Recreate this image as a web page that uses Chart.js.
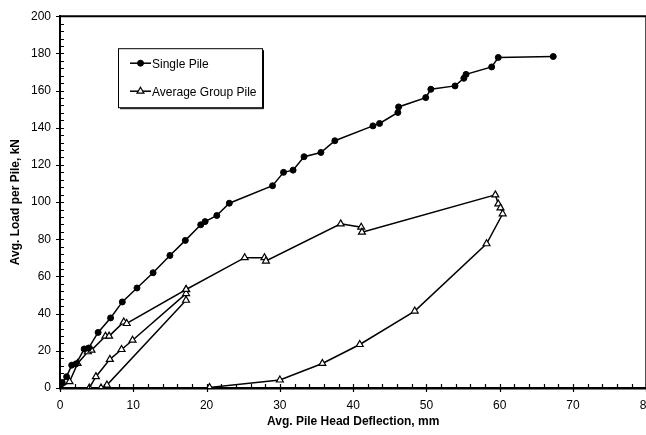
<!doctype html>
<html lang="en">
<head>
<meta charset="utf-8">
<title>Avg. Load per Pile vs Deflection</title>
<script src="https://cdn.jsdelivr.net/npm/chart.js@4.4.0/dist/chart.umd.min.js"></script>
<style>
  html, body { margin: 0; padding: 0; background: #fff; overflow: hidden; }
  canvas { display: block; }
</style>
</head>
<body>
<canvas id="pile" width="663" height="435"></canvas>
<script>
// series names
var seriesNames = ['Single Pile', 'Average Group Pile'];

// single pile: deflection (mm) / load (kN)
var singleX = [0, 0.3, 0.9, 1.6, 2.2, 3.3, 3.9, 5.2, 6.9, 8.5, 10.5, 12.7, 15.0, 17.1, 19.2, 19.8, 21.4, 23.1,
               29.0, 30.5, 31.8, 33.3, 35.6, 37.5, 42.7, 43.6, 46.1, 46.2, 49.9, 50.6, 53.9, 55.1, 55.4, 58.9, 59.8, 67.3];
var singleY = [0, 3.0, 6.1, 12.3, 13.0, 21.0, 21.5, 29.9, 37.7, 46.3, 53.8, 62.0, 71.3, 79.4, 87.8, 89.5, 92.8, 99.4,
               108.8, 116.0, 117.2, 124.4, 126.7, 133.0, 141.0, 142.3, 148.2, 151.2, 156.2, 160.7, 162.5, 166.6, 168.7, 172.7, 177.8, 178.3];

// average group pile (load, unload, reload, load, unload)
var groupX = [0, 1.3, 2.4, 3.8, 4.3, 6.2, 6.7, 8.7, 9.1, 17.2, 17.2, 6.4, 5.6, 4.0, 4.9, 6.8, 8.4, 9.9, 17.2, 17.2,
              25.2, 27.9, 28.1, 38.3, 41.1, 41.2, 59.4, 59.8, 60.1, 60.4, 58.2, 48.4, 40.9, 35.8, 30.0, 20.4];
var groupY = [0, 3.4, 13.2, 19.5, 20.4, 27.9, 27.9, 35.5, 34.7, 52.9, 47.2, 1.6, 0, 0, 6.1, 15.4, 20.7, 25.7, 50.8, 53.0,
              70.1, 70.1, 68.3, 88.3, 86.5, 83.8, 103.9, 99.0, 96.9, 93.7, 77.6, 41.4, 23.4, 13.2, 4.3, 0.3];

// axis ticks
var xTicks = [0, 10, 20, 30, 40, 50, 60, 70, 80];
var yTicks = [0, 20, 40, 60, 80, 100, 120, 140, 160, 180, 200];
var xMinorStep = 2;
var yMinorStep = 4;

function toPoints(xs, ys) {
  return xs.map(function (x, i) { return { x: x, y: ys[i] }; });
}

// box on top/right, minor and major tick marks
var frameTicks = {
  id: 'frameTicks',
  afterDraw: function (chart) {
    var ctx = chart.ctx, a = chart.chartArea;
    var xs = chart.scales.x, ys = chart.scales.y;
    ctx.save();
    ctx.strokeStyle = '#000';
    ctx.lineWidth = 2;
    ctx.beginPath();
    ctx.moveTo(a.left, a.top);
    ctx.lineTo(a.right, a.top);
    ctx.lineTo(a.right, a.bottom);
    ctx.stroke();

    ctx.lineWidth = 1.2;
    ctx.beginPath();
    for (var v = xs.min; v <= xs.max; v += xMinorStep) {
      var px = Math.round(xs.getPixelForValue(v)) + 0.5;
      var major = xTicks.indexOf(v) >= 0;
      ctx.moveTo(px, a.bottom + (major ? 4 : 0));
      ctx.lineTo(px, a.bottom - 4);
    }
    for (var w = ys.min; w <= ys.max; w += yMinorStep) {
      var py = Math.round(ys.getPixelForValue(w)) + 0.5;
      var majorY = yTicks.indexOf(w) >= 0;
      ctx.moveTo(a.left - (majorY ? 4 : 0), py);
      ctx.lineTo(a.left + 4, py);
    }
    ctx.stroke();
    ctx.restore();
  }
};

// boxed legend inside the plot
var boxLegend = {
  id: 'boxLegend',
  afterDraw: function (chart) {
    var ctx = chart.ctx, a = chart.chartArea;
    var bx = a.left + 58, by = a.top + 32, bw = 144, bh = 59;
    ctx.save();
    ctx.fillStyle = '#fff';
    ctx.fillRect(bx, by, bw, bh);
    ctx.strokeStyle = '#000';
    ctx.lineWidth = 1;
    ctx.strokeRect(bx + 0.5, by + 0.5, bw, bh);
    ctx.beginPath();
    ctx.moveTo(bx + 2, by + bh + 1.5);
    ctx.lineTo(bx + bw + 1.5, by + bh + 1.5);
    ctx.lineTo(bx + bw + 1.5, by + 2);
    ctx.stroke();

    ctx.font = '12px "Liberation Sans", Arial, sans-serif';
    ctx.textBaseline = 'middle';
    chart.data.datasets.forEach(function (ds, i) {
      var y = by + 15 + i * 28;
      ctx.strokeStyle = '#000';
      ctx.lineWidth = 1.5;
      ctx.beginPath();
      ctx.moveTo(bx + 12, y);
      ctx.lineTo(bx + 33, y);
      ctx.stroke();
      ctx.fillStyle = ds.pointBackgroundColor;
      ctx.lineWidth = ds.pointBorderWidth;
      Chart.helpers.drawPoint(ctx, {
        pointStyle: ds.pointStyle,
        radius: ds.pointRadius,
        borderWidth: ds.pointBorderWidth
      }, bx + 22.5, y);
      ctx.fillStyle = '#000';
      ctx.fillText(ds.label, bx + 34, y + 1);
    });
    ctx.restore();
  }
};

Chart.defaults.font.family = '"Liberation Sans", Arial, sans-serif';
Chart.defaults.font.size = 12;
Chart.defaults.color = '#000';

var ctx = document.getElementById('pile').getContext('2d');
var pileChart = new Chart(ctx, {
  type: 'scatter',
  data: {
    datasets: [{
      label: seriesNames[0],
      data: toPoints(singleX, singleY),
      showLine: true,
      borderColor: '#000',
      borderWidth: 1.5,
      pointStyle: 'circle',
      pointRadius: 3,
      pointBorderWidth: 1,
      pointBackgroundColor: '#000',
      pointBorderColor: '#000'
    }, {
      label: seriesNames[1],
      data: toPoints(groupX, groupY),
      showLine: true,
      borderColor: '#000',
      borderWidth: 1.5,
      pointStyle: 'triangle',
      pointRadius: 4,
      pointBorderWidth: 1.2,
      pointBackgroundColor: '#fff',
      pointBorderColor: '#000'
    }]
  },
  options: {
    responsive: false,
    animation: false,
    layout: { padding: { top: 15, right: 0, bottom: 0, left: 0 } },
    plugins: {
      legend: { display: false },
      tooltip: { enabled: false }
    },
    scales: {
      x: {
        type: 'linear',
        min: 0,
        max: 80,
        afterBuildTicks: function (s) { s.ticks = xTicks.map(function (v) { return { value: v }; }); },
        afterFit: function (s) { s.height = 47; },
        grid: { display: true, drawOnChartArea: false, drawTicks: false },
        border: { display: true, color: '#000', width: 2.5 },
        ticks: { padding: 10, maxRotation: 0, font: { size: 12 } },
        title: {
          display: true,
          text: 'Avg. Pile Head Deflection, mm',
          font: { size: 12, weight: 'bold' },
          padding: { top: 2, bottom: 6 }
        }
      },
      y: {
        type: 'linear',
        min: 0,
        max: 200,
        afterBuildTicks: function (s) { s.ticks = yTicks.map(function (v) { return { value: v }; }); },
        afterFit: function (s) { s.width = 60; },
        grid: { display: true, drawOnChartArea: false, drawTicks: false },
        border: { display: true, color: '#000', width: 2 },
        ticks: { padding: 9, font: { size: 12 } },
        title: {
          display: true,
          text: 'Avg. Load per Pile, kN',
          font: { size: 12, weight: 'bold' },
          padding: { top: 8, bottom: 4 }
        }
      }
    }
  },
  plugins: [frameTicks, boxLegend]
});
</script>
</body>
</html>
